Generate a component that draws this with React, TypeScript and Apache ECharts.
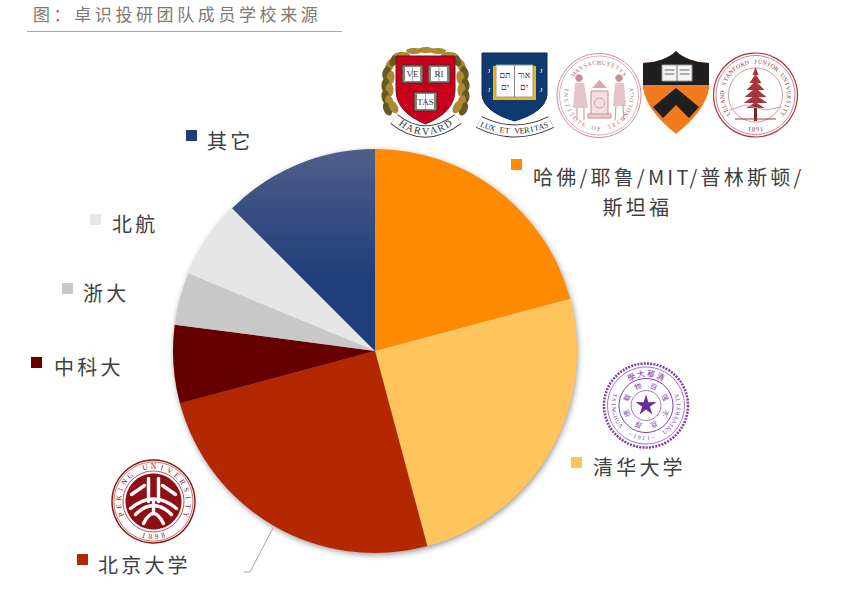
import React, { useEffect, useRef } from "react";
import * as echarts from "echarts";

const titleText = "图：卓识投研团队成员学校来源";
const categories = ["哈佛/耶鲁/MIT/普林斯顿/\n　　　斯坦福", "清华大学", "北京大学", "中科大", "浙大", "北航", "其它"];
const shares = [10, 12, 12, 3, 2, 3, 6];
const swatches = ["#ff8a00", "#ffc45c", "#b32800", "#660000", "#c8c8c8", "#e6e6e6", "#1f3d7a"];
const labelSpots = [
  { x: 533, y: 191, align: "left", key: [511, 159] },
  { x: 593, y: 466, align: "left", key: [571, 457] },
  { x: 98, y: 564, align: "left", key: [77, 554] },
  { x: 54, y: 366, align: "left", key: [31, 357] },
  { x: 83, y: 292, align: "left", key: [62, 283] },
  { x: 112, y: 223, align: "left", key: [90, 214] },
  { x: 207, y: 140, align: "left", key: [186, 130] },
];

const SERIF = '"Liberation Serif"';
const rad = (d: number) => (d * Math.PI) / 180;

echarts.graphic.registerShape("harvardShield", echarts.graphic.extendPath("M396 56 L455 56 L455 90 Q455 112 425.5 124 Q396 112 396 90 Z", {}));
echarts.graphic.registerShape("yaleShield", echarts.graphic.extendPath("M482 53 L547 53 L547 95 Q545 112 514.5 121 Q484 112 482 95 Z", {}));
echarts.graphic.registerShape("princetonShield", echarts.graphic.extendPath("M643 63 Q665 62 676 51 Q687 62 709 63 L709 88 Q706 110 676 134 Q646 110 643 88 Z", {}));
echarts.graphic.registerShape("princetonTop", echarts.graphic.extendPath("M643 63 Q665 62 676 51 Q687 62 709 63 L709 85 L643 85 Z", {}));
echarts.graphic.registerShape("harvardRibbon", echarts.graphic.extendPath("M394 119 Q425 144 458 119", {}));
echarts.graphic.registerShape("yaleRibbon", echarts.graphic.extendPath("M479 122 Q515 140 551 122", {}));
echarts.graphic.registerShape("pkuArcA", echarts.graphic.extendPath("M130.5 508.5 Q153.5 489.5 176.5 508.5", {}));
echarts.graphic.registerShape("pkuArcB", echarts.graphic.extendPath("M135.5 514.5 Q153.5 496.5 171.5 514.5", {}));
echarts.graphic.registerShape("pkuArcC", echarts.graphic.extendPath("M143.5 523.5 Q153.5 503.5 163.5 523.5", {}));

function arcText(text: string, cx: number, cy: number, r: number, half: number, size: number, fill: string, bottom: boolean) {
  const chars = Array.from(text);
  return chars.map((ch, i) => {
    const t = chars.length > 1 ? i / (chars.length - 1) : 0.5;
    const off = -half + 2 * half * t;
    const a = bottom ? 180 - off : off;
    return {
      type: "text",
      x: cx + r * Math.sin(rad(a)),
      y: cy - r * Math.cos(rad(a)),
      rotation: bottom ? rad(off) : -rad(off),
      style: { text: ch, fontFamily: SERIF, fontSize: size, fill, align: "center", verticalAlign: "middle" },
    };
  });
}
const ring = (cx: number, cy: number, r: number, stroke: string, lineWidth = 1, extra: any = {}) => ({
  type: "circle", shape: { cx, cy, r }, style: { fill: "none", stroke, lineWidth, ...extra },
});
const disc = (cx: number, cy: number, r: number, fill: string) => ({ type: "circle", shape: { cx, cy, r }, style: { fill, stroke: fill, lineWidth: 0.5 } });
const box = (x: number, y: number, width: number, height: number, fill: string, stroke?: string) => ({
  type: "rect", shape: { x, y, width, height }, style: { fill, stroke: stroke || "none", lineWidth: stroke ? 1 : 0 },
});
const seg = (pts: number[][], stroke: string, lineWidth = 1) => ({
  type: "polyline", shape: { points: pts }, style: { fill: "none", stroke, lineWidth, lineCap: "round" },
});
const poly = (pts: number[][], fill: string) => ({ type: "polygon", shape: { points: pts }, style: { fill } });
const word = (text: string, x: number, y: number, size: number, fill: string) => ({
  type: "text", x, y, style: { text, fontFamily: SERIF, fontSize: size, fill, align: "center", verticalAlign: "middle" },
});

function harvard() {
  const gold = "#a98a35", deep = "#6b5720";
  const leaves: any[] = [];
  [
    [-36, -24, -20], [-39, -17, -14], [-35, -12, -10], [-40, -5, -6], [-36, 0, 0], [-40, 7, 8],
    [-36, 12, 16], [-38, 19, 24], [-32, 17, 30], [-31, -30, -30],
  ].forEach(([dx, dy, rot], i) => {
    [-1, 1].forEach((s) => {
      leaves.push({ type: "ellipse", x: 425.5 + s * dx, y: 90 + dy, rotation: rad(s * rot), shape: { cx: 0, cy: 0, rx: 4, ry: 7 }, style: { fill: i % 2 ? deep : gold } });
    });
  });
  [[414, 51], [438, 51], [426, 50], [402, 55], [449, 55]].forEach(([x, y]) => {
    leaves.push({ type: "ellipse", shape: { cx: x, cy: y, rx: 8, ry: 3 }, style: { fill: gold } });
  });
  const book = (x: number, y: number, w: number, h: number, t: string) => [
    box(x, y, w, h, "#8d8170", "#3a3226"), box(x + 3, y + 2, w - 6, h - 4, "#ffffff"), seg([[x + w / 2, y + 1], [x + w / 2, y + h - 1]], "#777", 0.6),
    word(t, x + w / 2, y + h / 2, 9, "#333"),
  ];
  return [
    ...leaves,
    { type: "harvardRibbon", style: { fill: "none", stroke: "#444", lineWidth: 12 } },
    { type: "harvardRibbon", style: { fill: "none", stroke: "#fff", lineWidth: 10 } },
    { type: "harvardShield", style: { fill: "#c8001e", stroke: "#6d1520", lineWidth: 1 } },
    ...book(402, 65, 21, 18, "VE"), ...book(428, 65, 22, 18, "RI"), ...book(414, 92, 23, 19, "TAS"),
    ...arcText("HARVARD", 425.5, 93, 38, 36, 10, "#333", true),
  ];
}
function yale() {
  return [
    { type: "yaleRibbon", style: { fill: "none", stroke: "#333", lineWidth: 13 } },
    { type: "yaleRibbon", style: { fill: "none", stroke: "#fff", lineWidth: 11 } },
    { type: "yaleShield", style: { fill: "#0f3a6e", stroke: "#0b2a52", lineWidth: 1 } },
    box(493, 66, 43, 34, "#e9b616"), box(496, 65, 37, 32, "#ffffff", "#999"), seg([[514.5, 65], [514.5, 97]], "#888"),
    word("תם", 505, 75, 9, "#222"), word("אור", 524, 75, 9, "#222"), word("ים", 505, 87, 9, "#222"), word("ים", 524, 87, 9, "#222"),
    word("J", 489, 71, 7, "#fff"), word("J", 541, 71, 7, "#fff"), word("J", 489, 90, 7, "#fff"), word("J", 541, 90, 7, "#fff"),
    ...arcText("LUX ET VERITAS", 514.5, 43, 88, 21, 8, "#222", true),
  ];
}
function mit() {
  const c = "#c98d98", cx = 599, cy = 95.5;
  return [
    ring(cx, cy, 42, c), ring(cx, cy, 39.5, c, 0.7),
    ...arcText("MASSACHUSETTS", cx, cy, 33, 50, 6, "#b56a78", false),
    ...arcText("INSTITUTE OF TECHNOLOGY", cx, cy, 33, 100, 6, "#b56a78", true),
    box(591, 91, 17, 24, "#f2dfe2", c), ring(599.5, 103, 5, c, 0.8), box(588, 114, 23, 4, "#eccdd3", c),
    disc(579, 78, 3.5, "#c98d98"), poly([[575, 83], [584, 83], [588, 108], [573, 108]], "#e6c3ca"), seg([[577, 108], [577, 120]], c), seg([[584, 108], [584, 120]], c),
    disc(619, 78, 3.5, "#c98d98"), poly([[615, 83], [624, 83], [626, 106], [613, 106]], "#e6c3ca"), seg([[616, 106], [615, 120]], c), seg([[623, 106], [624, 120]], c),
    poly([[592, 88], [607, 88], [599.5, 80]], "#d9a5af"),
  ];
}
function princeton() {
  return [
    { type: "princetonShield", style: { fill: "#f47a1f" } },
    { type: "princetonTop", style: { fill: "#1f1f1f" } },
    box(662, 65, 30, 16, "#f4f4f4", "#999"), seg([[677, 65], [677, 81]], "#777"),
    seg([[665, 70], [674, 70]], "#666"), seg([[665, 74], [674, 74]], "#666"), seg([[680, 70], [689, 70]], "#666"), seg([[680, 74], [689, 74]], "#666"),
    poly([[676, 88], [699, 107], [689, 118], [676, 105], [663, 118], [653, 107]], "#1f1f1f"),
  ];
}
function stanford() {
  const c = "#a8353d", cx = 755.5, cy = 95;
  const tiers = [[-28, 3, 8], [-21, 6, 9], [-14, 9, 9], [-7, 11, 9], [0, 12, 8], [7, 9, 6]];
  return [
    ring(cx, cy, 42, c, 1.2), ring(cx, cy, 39.5, c, 0.6), ring(cx, cy, 27, c, 0.5),
    ...arcText("LELAND STANFORD JUNIOR UNIVERSITY", cx, cy, 33.5, 125, 6, "#8f2b33", false),
    ...arcText("1891", cx, cy, 34, 10, 6.5, "#8f2b33", true),
    ...tiers.map(([dy, w, h]) => poly([[cx, cy + dy], [cx + w, cy + dy + h], [cx - w, cy + dy + h]], "#a8353d")),
    box(cx - 1.5, cy + 10, 3, 16, "#7d2229"),
    seg([[cx - 26, cy + 15], [cx - 10, cy + 10], [cx + 10, cy + 15], [cx + 26, cy + 12]], "#d59aa0"),
    seg([[cx - 20, cy + 24], [cx + 20, cy + 24]], c, 1.2),
  ];
}
function tsinghua() {
  const c = "#7b3fa8", cx = 646, cy = 405.5;
  const star: number[][] = [];
  for (let i = 0; i < 10; i++) {
    const r = i % 2 ? 4 : 11;
    star.push([cx + r * Math.sin(rad(i * 36)), cy - r * Math.cos(rad(i * 36))]);
  }
  const inner = Array.from("自强不息厚德载物").map((ch, i) => {
    const a = 22 + i * 45;
    return { type: "text", x: cx + 21 * Math.sin(rad(a)), y: cy - 21 * Math.cos(rad(a)), rotation: -rad(a), style: { text: ch, fontFamily: '"Noto Sans CJK TC"', fontSize: 7, fill: c, align: "center", verticalAlign: "middle" } };
  });
  return [
    ring(cx, cy, 42, c, 2.5, { lineDash: [2, 1.2] }), ring(cx, cy, 38.5, c, 0.7), ring(cx, cy, 27, c, 1), ring(cx, cy, 15, c, 0.7),
    ...Array.from("學大華清").map((ch, i) => {
      const off = -27 + i * 18;
      return { type: "text", x: cx + 32.5 * Math.sin(rad(off)), y: cy - 32.5 * Math.cos(rad(off)), rotation: -rad(off), style: { text: ch, fontFamily: '"Noto Sans CJK TC"', fontSize: 8, fill: c, align: "center", verticalAlign: "middle" } };
    }),
    ...arcText("TSINGHUA  ~1911~  UNIVERSITY", cx, cy, 32.5, 108, 6, c, true),
    ...inner,
    poly(star, "#6a2c98"),
  ];
}
function peking() {
  const c = "#8e0f14", cx = 153.5, cy = 501.5, w = "#ffffff";
  const mark = (t: string) => ({ type: t, style: { fill: "none", stroke: w, lineWidth: 3.4, lineCap: "round" } });
  const s = (pts: number[][]) => seg(pts.map(([x, y]) => [cx + x, cy + y]), w, 3.4);
  const outline: number[][] = [];
  for (let i = 0; i < 72; i++) outline.push([cx + 28 * Math.sin(rad(i * 5)), cy - 28 * Math.cos(rad(i * 5))]);
  return [
    ring(cx, cy, 41.5, c, 1.4), ring(cx, cy, 39.5, c, 0.6), ring(cx, cy, 30.5, c, 0.7),
    ...arcText("PEKING UNIVERSITY", cx, cy, 35, 112, 7.5, c, false),
    ...arcText("1898", cx, cy, 35, 16, 7.5, c, true),
    poly(outline, c),
    s([[-5, -23], [-5, 0]]), s([[5, -23], [5, 0]]), s([[-22, -7], [-9, -16]]), s([[22, -7], [9, -16]]),
    s([[0, 0], [0, 10]]),
    mark("pkuArcA"), mark("pkuArcB"), mark("pkuArcC"),
  ];
}

export default function App() {
  const ref = useRef<HTMLDivElement>(null);
  useEffect(() => {
    const chart = echarts.init(ref.current!, undefined, { renderer: "svg" });
    chart.setOption({
      animation: false,
      backgroundColor: "#ffffff",
      title: {
        text: titleText, left: 28, top: 0,
        textStyle: { fontFamily: '"Noto Sans CJK SC"', fontSize: 17, fontWeight: "normal", color: "#7d7872" },
      },
      series: [{
        type: "pie", center: [375, 351], radius: 202, startAngle: 90, clockwise: true, silent: true,
        avoidLabelOverlap: false,
        data: categories.map((name, i) => ({
          name, value: shares[i],
          itemStyle: {
            color: i === 6
              ? { type: "linear", x: 0, y: 0, x2: 0, y2: 1, colorStops: [{ offset: 0, color: "#4f5f8a" }, { offset: 0.65, color: "#1f3d7a" }, { offset: 1, color: "#1f3d7a" }] }
              : swatches[i],
          },
        })),
        label: {
          show: true, position: "outside", formatter: "{b}", fontFamily: '"Noto Sans CJK SC"', fontSize: 20,
          lineHeight: 30, color: "#404040", overflow: "none", textBorderWidth: 0,
        },
        labelLine: { show: false },
        labelLayout: (p: any) => {
          const spot = labelSpots[p.dataIndex];
          return { x: spot.x, y: spot.y, align: spot.align, verticalAlign: "middle", hideOverlap: false };
        },
      }],
      graphic: { elements: [
        { type: "line", shape: { x1: 27, y1: 31.5, x2: 342, y2: 31.5 }, style: { stroke: "#a6a6a6", lineWidth: 1 } },
        { type: "polyline", shape: { points: [[273, 528], [250, 572], [244, 572]] }, style: { fill: "none", stroke: "#a6a6a6", lineWidth: 1 } },
        { type: "circle", z: -1, shape: { cx: 375, cy: 351, r: 201.5 }, style: { fill: "#999999", shadowBlur: 6, shadowColor: "rgba(0,0,0,0.45)", shadowOffsetX: 1, shadowOffsetY: 2 } },
        ...labelSpots.map((spot, i) => box(spot.key[0], spot.key[1], 11, 11, swatches[i])),
        ...harvard(), ...yale(), ...mit(), ...princeton(), ...stanford(), ...tsinghua(),
        { type: "group", children: peking() },
      ] },
    });
    return () => chart.dispose();
  }, []);
  return (
    <div style={{ position: "absolute", left: 0, top: 0, width: 844, height: 595 }}>
      <style>{`
        #school-chart text[style*="20px"] { letter-spacing: 3.2px; }
        #school-chart text[style*="17px"] { letter-spacing: 3.6px; }
      `}</style>
      <div id="school-chart" ref={ref} style={{ width: 844, height: 595 }} />
    </div>
  );
}
